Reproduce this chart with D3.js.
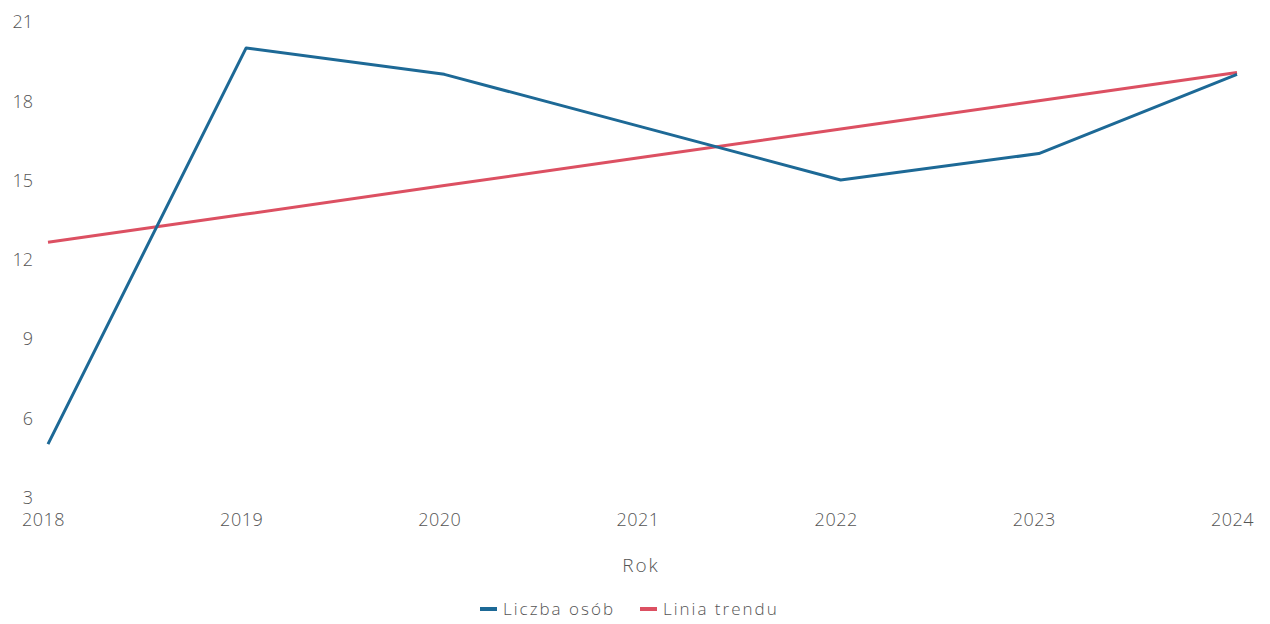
<!DOCTYPE html>
<html><head><meta charset="utf-8">
<script src="https://cdn.jsdelivr.net/npm/d3@7/dist/d3.min.js"></script>
<style>
body{margin:0;background:#fff;}
svg text{font-family:"Open Sans",sans-serif;font-weight:300;fill:#555;}
</style></head><body>
<svg id="c" width="1270" height="624"></svg>
<script>
const years = ["2018","2019","2020","2021","2022","2023","2024"];
const liczbaOsob = [5, 20, 19, 17, 15, 16, 19];
const liniaTrendu = [12.64, 13.71, 14.79, 15.86, 16.93, 18.0, 19.07];
const yTicks = [3, 6, 9, 12, 15, 18, 21];
const seriesNames = ["Liczba osób", "Linia trendu"];
const colors = ["#1d6996", "#dc5062"];

const svg = d3.select("#c");
const x = d3.scalePoint().domain(years).range([48, 1237]);
const y = d3.scaleLinear().domain([3, 21]).range([497, 21.5]);

// y axis labels
const ya = svg.append("g").attr("transform","translate(33,0)")
  .call(d3.axisLeft(y).tickValues(yTicks).tickSize(0).tickPadding(0));
ya.select(".domain").remove();
ya.selectAll("text").style("font-size","18px").attr("dy","0.35em");

// x axis labels
const xa = svg.append("g").attr("transform","translate(-5,513)")
  .call(d3.axisBottom(x).tickSize(0).tickPadding(0));
xa.select(".domain").remove();
xa.selectAll("text").style("font-size","18px").style("letter-spacing","0.5px").attr("dy","0.71em");

svg.append("text").attr("x",641).attr("y",572).attr("text-anchor","middle")
  .style("font-size","19px").style("letter-spacing","2px").text("Rok");

const line = d3.line().x((d,i)=>x(years[i])).y(d=>y(d));
svg.append("path").datum(liniaTrendu).attr("d",line).attr("fill","none")
  .attr("stroke",colors[1]).attr("stroke-width",3);
svg.append("path").datum(liczbaOsob).attr("d",line).attr("fill","none")
  .attr("stroke",colors[0]).attr("stroke-width",3).attr("stroke-linejoin","round");

// legend
const lg = svg.append("g");
const lx = [480, 640];
seriesNames.forEach((n,i)=>{
  lg.append("line").attr("x1",lx[i]).attr("x2",lx[i]+17).attr("y1",609).attr("y2",609)
    .attr("stroke",colors[i]).attr("stroke-width",4);
  lg.append("text").attr("x",lx[i]+23).attr("y",615).style("font-size","17px")
    .style("letter-spacing","2px").text(n);
});
</script></body></html>
